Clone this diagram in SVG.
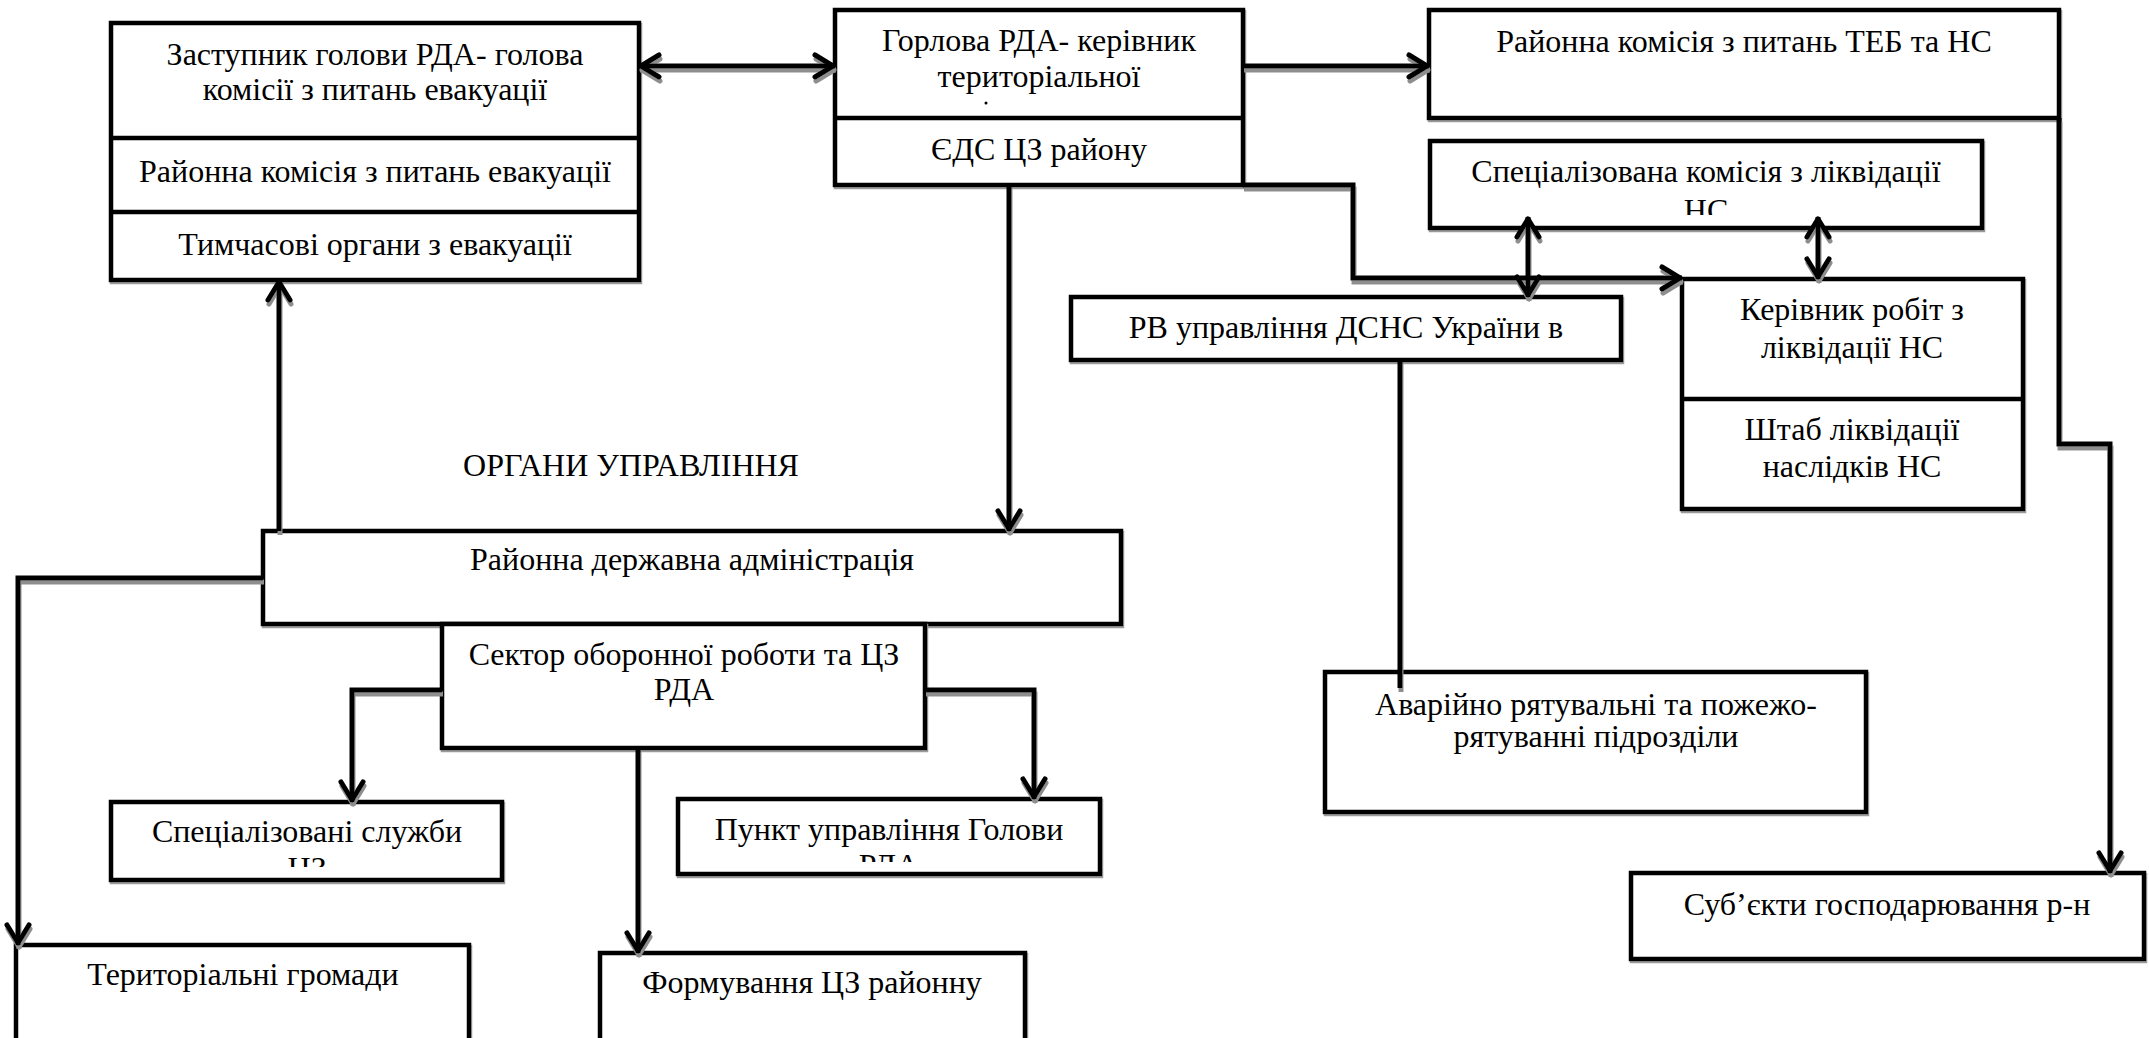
<svg xmlns="http://www.w3.org/2000/svg" width="2149" height="1038" viewBox="0 0 2149 1038">
<defs>
<style>
.box{fill:#fff;stroke:#000;stroke-width:4.5;filter:url(#bsh)}
.div{stroke:#000;stroke-width:4.5;fill:none}
.t{font-family:"Liberation Serif","Times New Roman",serif;font-size:32px;fill:#000;text-anchor:middle}
.c{fill:none;stroke:#000;stroke-width:5;stroke-linejoin:miter}
.a{marker-end:url(#ah)}
.aa{marker-start:url(#ah);marker-end:url(#ah)}
</style>
<filter id="sh" filterUnits="userSpaceOnUse" x="0" y="0" width="2149" height="1038">
<feDropShadow dx="1" dy="4" stdDeviation="0.4" flood-color="#8e8e8e" flood-opacity="1"/>
</filter>
<filter id="bsh" filterUnits="userSpaceOnUse" x="0" y="0" width="2149" height="1038">
<feDropShadow dx="1" dy="2" stdDeviation="0.3" flood-color="#9a9a9a" flood-opacity="1"/>
</filter>
<marker id="ah" markerUnits="userSpaceOnUse" viewBox="-26 -16 30 32" refX="0" refY="0" markerWidth="30" markerHeight="32" orient="auto-start-reverse" overflow="visible">
<path d="M-20,-11 L-2,0 L-20,11" fill="none" stroke="#000" stroke-width="5" stroke-linecap="round" stroke-linejoin="round"/>
</marker>
<clipPath id="clipSpec"><rect x="1430" y="141" width="552" height="74"/></clipPath>
<clipPath id="clipSl"><rect x="111" y="802" width="391" height="65"/></clipPath>
<clipPath id="clipPu"><rect x="678" y="799" width="422" height="63"/></clipPath>
</defs>
<rect width="2149" height="1038" fill="#fff"/>

<g id="node-evac">
<rect class="box" x="111" y="23" width="528" height="257"/>
<line class="div" x1="111" y1="138" x2="639" y2="138"/>
<line class="div" x1="111" y1="212" x2="639" y2="212"/>
<text class="t" x="375" y="65">Заступник голови РДА- голова</text>
<text class="t" x="375" y="100">комісії з питань евакуації</text>
<text class="t" x="375" y="182">Районна комісія з питань евакуації</text>
<text class="t" x="375" y="255">Тимчасові органи з евакуації</text>
</g>

<g id="node-head">
<rect class="box" x="835" y="10" width="408" height="175"/>
<line class="div" x1="835" y1="118" x2="1243" y2="118"/>
<text class="t" x="1039" y="51">Горлова РДА- керівник</text>
<text class="t" x="1039" y="87">територіальної</text>
<circle cx="986" cy="103" r="1.5" fill="#000"/>
<text class="t" x="1039" y="160">ЄДС ЦЗ району</text>
</g>

<g id="node-teb">
<rect class="box" x="1429" y="10" width="630" height="108"/>
<text class="t" x="1744" y="52">Районна комісія з питань ТЕБ та НС</text>
</g>

<g id="node-spec-commission">
<rect class="box" x="1430" y="141" width="552" height="87"/>
<text class="t" x="1706" y="182">Спеціалізована комісія з ліквідації</text>
<text class="t" x="1706" y="221" clip-path="url(#clipSpec)">НС</text>
</g>

<g id="node-rv">
<rect class="box" x="1071" y="297" width="550" height="63"/>
<text class="t" x="1346" y="338">РВ управління ДСНС України в</text>
</g>

<g id="node-kerivnyk">
<rect class="box" x="1682" y="279" width="341" height="230"/>
<line class="div" x1="1682" y1="399" x2="2023" y2="399"/>
<text class="t" x="1852" y="320">Керівник робіт з</text>
<text class="t" x="1852" y="358">ліквідації НС</text>
<text class="t" x="1852" y="440">Штаб ліквідації</text>
<text class="t" x="1852" y="477">наслідків НС</text>
</g>

<g id="node-rescue">
<rect class="box" x="1325" y="672" width="541" height="140"/>
<text class="t" x="1596" y="715">Аварійно рятувальні та пожежо-</text>
<text class="t" x="1596" y="747">рятуванні підрозділи</text>
</g>

<g id="node-subjects">
<rect class="box" x="1631" y="873" width="513" height="86"/>
<text class="t" x="1887" y="915">Суб’єкти господарювання р-н</text>
</g>

<text id="label-organy" class="t" x="631" y="476">ОРГАНИ УПРАВЛІННЯ</text>

<g id="node-rda">
<rect class="box" x="263" y="531" width="858" height="93"/>
<text class="t" x="692" y="570">Районна державна адміністрація</text>
</g>

<g id="node-sector">
<rect class="box" x="442" y="624" width="483" height="124"/>
<text class="t" x="684" y="665">Сектор оборонної роботи та ЦЗ</text>
<text class="t" x="684" y="700">РДА</text>
</g>

<g id="node-services">
<rect class="box" x="111" y="802" width="391" height="78"/>
<text class="t" x="307" y="842">Спеціалізовані служби</text>
<text class="t" x="307" y="879" clip-path="url(#clipSl)">ЦЗ</text>
</g>

<g id="node-punkt">
<rect class="box" x="678" y="799" width="422" height="75"/>
<text class="t" x="889" y="840">Пункт управління Голови</text>
<text class="t" x="889" y="876" clip-path="url(#clipPu)">РДА</text>
</g>

<g id="node-communities">
<rect class="box" x="16" y="945" width="453" height="110"/>
<text class="t" x="243" y="985">Територіальні громади</text>
</g>

<g id="node-formations">
<rect class="box" x="600" y="953" width="425" height="100"/>
<text class="t" x="812" y="993">Формування ЦЗ районну</text>
</g>

<g id="connectors" filter="url(#sh)">
<path class="c aa" d="M639,66 H835"/>
<path class="c a" d="M1243,66 H1429"/>
<path class="c a" d="M1243,185 H1353 V278 H1682"/>
<path class="c a" d="M1009,185 V531"/>
<path class="c a" d="M279,531 V280"/>
<path class="c a" d="M263,578 H18 V945"/>
<path class="c a" d="M442,690 H352 V802"/>
<path class="c a" d="M925,690 H1034 V799"/>
<path class="c a" d="M638,748 V953"/>
<path class="c aa" d="M1528,217 V297"/>
<path class="c aa" d="M1818,217 V279"/>
<path class="c" d="M1400,360 V688"/>
<path class="c a" d="M2059,118 V444 H2110 V873"/>
</g>
</svg>
